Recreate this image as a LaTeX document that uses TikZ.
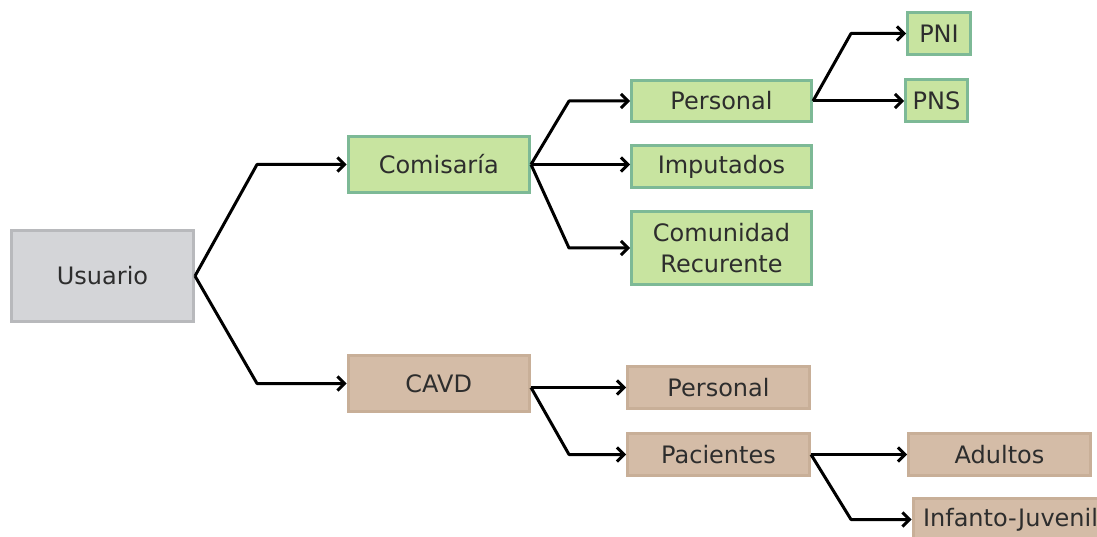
\documentclass[tikz,border=0pt]{standalone}
\usepackage{fontspec}
\setmainfont{DejaVu Sans}
\usetikzlibrary{arrows.meta}
\definecolor{gfill}{RGB}{200,228,160}
\definecolor{gline}{RGB}{125,185,150}
\definecolor{tfill}{RGB}{212,188,167}
\definecolor{tline}{RGB}{200,175,152}
\definecolor{sfill}{RGB}{212,213,216}
\definecolor{sline}{RGB}{184,185,188}
\definecolor{txt}{RGB}{45,45,45}
\tikzset{
  box/.style={rectangle, line width=3pt, inner sep=0pt, text=txt, align=center,
    font=\fontsize{24}{31}\selectfont},
  gbox/.style={box, fill=gfill, draw=gline},
  tbox/.style={box, fill=tfill, draw=tline},
  sbox/.style={box, fill=sfill, draw=sline},
  arr/.style={line width=3pt, line join=round, -{Straight Barb[length=7pt,width=14pt]}},
}
\begin{document}
\begin{tikzpicture}[x=1pt,y=-1pt]
\useasboundingbox (0,0) rectangle (1097,537);
\clip (0,0) rectangle (1097,537);
\fill[white] (0,0) rectangle (1097,537);
% nodes
\node[sbox, minimum width=182pt, minimum height=91pt] (usuario) at (102.5,276) {Usuario};
\node[gbox, minimum width=181.5pt, minimum height=56pt] (comisaria) at (438.75,164.5) {Comisaría};
\node[tbox, minimum width=181.5pt, minimum height=56pt] (cavd) at (438.75,383.5) {CAVD};
\node[gbox, minimum width=180pt, minimum height=41pt] (per1) at (721.5,101) {Personal};
\node[gbox, minimum width=180pt, minimum height=42pt] (imp) at (721.5,166.5) {Imputados};
\node[gbox, minimum width=180pt, minimum height=73pt] (com) at (721.5,248) {Comunidad\\Recurente};
\node[gbox, minimum width=63pt, minimum height=42pt] (pni) at (939,33.5) {PNI};
\node[gbox, minimum width=62pt, minimum height=42pt] (pns) at (936.5,100.5) {PNS};
\node[tbox, minimum width=182pt, minimum height=42pt] (per2) at (718.5,387.5) {Personal};
\node[tbox, minimum width=182pt, minimum height=42pt] (pac) at (718.5,454.5) {Pacientes};
\node[tbox, minimum width=182pt, minimum height=42pt] (adu) at (999.5,454.5) {Adultos};
\node[tbox, anchor=west, inner xsep=10pt, text width=220pt, align=left, minimum height=42pt] (inf) at (911.5,519.5) {Infanto-Juvenil};
% fork points
\coordinate (e1) at (257,164.5);
\coordinate (e2) at (257,383.5);
\coordinate (e3) at (569,101);
\coordinate (e4) at (569,248);
\coordinate (e5) at (851,33.5);
\coordinate (e6) at (569,454.5);
\coordinate (e7) at (851,519.5);
\coordinate (cs) at (cavd.east |- per2.west);
% connectors
\draw[arr] (usuario.east) -- (e1) -- (comisaria.west);
\draw[arr] (usuario.east) -- (e2) -- (cavd.west);
\draw[arr] (comisaria.east) -- (e3) -- (per1.west);
\draw[arr] (comisaria.east) -- (comisaria.east -| imp.west);
\draw[arr] (comisaria.east) -- (e4) -- (com.west);
\draw[arr] (per1.east) -- (e5) -- (pni.west);
\draw[arr] (per1.east) -- (per1.east -| pns.west);
\draw[arr] (cs) -- (per2.west);
\draw[arr] (cs) -- (e6) -- (pac.west);
\draw[arr] (pac.east) -- (adu.west);
\draw[arr] (pac.east) -- (e7) -- (inf.west);
\end{tikzpicture}
\end{document}
